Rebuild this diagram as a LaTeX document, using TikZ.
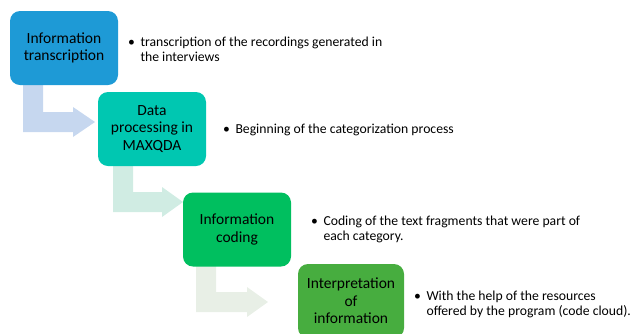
\documentclass[tikz,border=0pt]{standalone}
\usepackage{fontspec}
\setmainfont{Carlito}
\usetikzlibrary{calc}
\definecolor{boxA}{HTML}{1E9AD6}
\definecolor{boxB}{HTML}{00C7B1}
\definecolor{boxC}{HTML}{00BF5F}
\definecolor{boxD}{HTML}{47AD3F}
\definecolor{arrA}{HTML}{C6D7EF}
\definecolor{arrB}{HTML}{D0ECE3}
\definecolor{arrC}{HTML}{E8EFE6}
\tikzset{
  stepbox/.style={rounded corners=10pt, minimum width=108pt, minimum height=74pt,
    inner sep=0pt, align=center, text=black, font=\fontsize{15.5}{17.5}\selectfont},
  bullettext/.style={anchor=base west, inner sep=0pt, text=black,
    font=\fontsize{13.7}{15}\selectfont},
}
\newcommand{\bulletitem}[1]{\begin{tabular}[t]{@{}l@{\hspace{5.5pt}}l@{}}•&#1\end{tabular}}
\begin{document}
\begin{tikzpicture}[x=1pt,y=-1pt]
\useasboundingbox (0,0) rectangle (631,333);
\clip (0,0) rectangle (631,333);
% arrows
\fill[arrA] (23,80) -- (43,80) -- (43,112) -- (73,112) -- (73,107) -- (95,122) -- (73,137) -- (73,132) -- (23,132) -- cycle;
\fill[arrB] (113,160) -- (133,160) -- (133,192) -- (162,192) -- (162,187) -- (183,202) -- (162,217) -- (162,212) -- (113,212) -- cycle;
\fill[arrC] (196,262) -- (216,262) -- (216,292) -- (247,292) -- (247,287) -- (268,302) -- (247,317) -- (247,312) -- (196,312) -- cycle;
% boxes
\node[stepbox, fill=boxA] (b1) at (64,48) {Information\\transcription};
\node[stepbox, fill=boxB] (b2) at (152,129) {Data\\processing in\\MAXQDA};
\node[stepbox, fill=boxC] (b3) at (237,229.5) {Information\\coding};
\node[stepbox, fill=boxD, minimum width=106pt] (b4) at (351,301) {Interpretation\\of\\information};
% bullet texts
\node[bullettext] (t1) at (128,46) {\bulletitem{transcription of the recordings generated in\\&the interviews}};
\node[bullettext] (t2) at (223,133.5) {\bulletitem{Beginning of the categorization process}};
\node[bullettext] (t3) at (311,225) {\bulletitem{Coding of the text fragments that were part of\\&each category.}};
\node[bullettext] (t4) at (414,300) {\bulletitem{With the help of the resources\\&offered by the program (code cloud).}};
\end{tikzpicture}
\end{document}
